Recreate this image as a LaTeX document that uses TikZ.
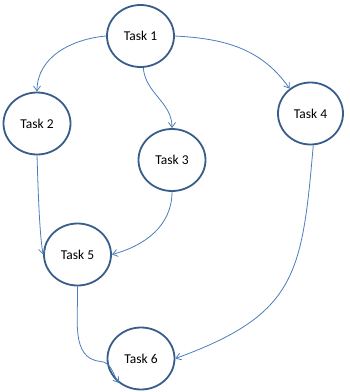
\documentclass[tikz,border=0pt]{standalone}
\usepackage{fontspec}
\setmainfont{Carlito}
\usepackage{xcolor}
\usepackage{tikz}
\usetikzlibrary{arrows.meta,shapes.geometric}
\definecolor{taskrule}{HTML}{385D8A}
\definecolor{taskedge}{HTML}{4A7EBB}

\begin{document}
\begin{tikzpicture}[font=\fontsize{13.5}{16}\selectfont, >={Straight Barb[length=5pt,width=7pt]}, x=1pt, y=-1pt]
  \tikzset{task/.style={ellipse, draw=taskrule, line width=1.8pt, fill=white, minimum width=67pt, minimum height=62pt, inner sep=0},
           dep/.style={->, draw=taskedge, line width=0.8pt}}
  \useasboundingbox (0,0) rectangle (350,392);
  % tasks
  \node[task] (t1) at (140.5, 36) {Task 1};
  \node[task] (t2) at (37, 123.5) {Task 2};
  \node[task] (t3) at (172, 160) {Task 3};
  \node[task, minimum width=65pt] (t4) at (310.5, 113.5) {Task 4};
  \node[task] (t5) at (77.5, 254.5) {Task 5};
  \node[task] (t6) at (141, 358.5) {Task 6};
  % dependencies
  \draw[dep] (t1.west) to[out=185, in=90] (t2.north);
  \draw[dep] (t1.-85) to[out=-85, in=90] (t3.north);
  \draw[dep] (t1.east) to[out=-3, in=125] (t4.130);
  \draw[dep] (t2.south) to[out=-88, in=100, looseness=0.6] (t5.west);
  \draw[dep] (t3.south) to[out=-90, in=15] (t5.east);
  \draw[dep] (t4.-85) to[out=-95, in=20, looseness=1.3] (t6.east);
  \draw[dep] (t5.south) to[out=-88, in=175] ++(23,75) to[out=-5, in=125] (t6.228);
\end{tikzpicture}
\end{document}
